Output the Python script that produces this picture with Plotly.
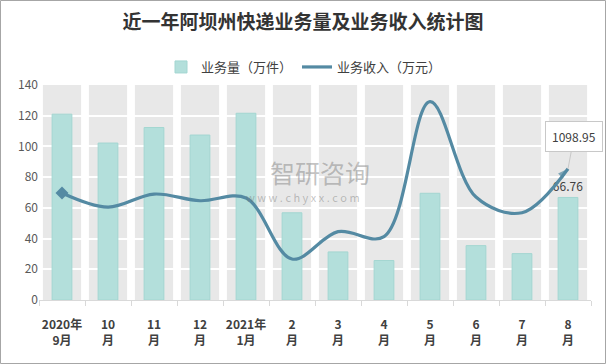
import plotly.graph_objects as go

categories = ["2020年<br>9月", "10<br>月", "11<br>月", "12<br>月", "2021年<br>1月", "2<br>月",
              "3<br>月", "4<br>月", "5<br>月", "6<br>月", "7<br>月", "8<br>月"]
volume = [121.0, 102.2, 112.3, 107.4, 121.6, 56.8, 31.3, 25.7, 69.5, 35.4, 30.2, 66.76]
revenue = [896, 778, 887, 831, 854, 343, 572, 530, 1660, 862, 731, 1098.95]
y_ticks = [0, 20, 40, 60, 80, 100, 120, 140]

FONT = "Noto Sans CJK SC"
L, R, T, B = 39, 15, 85, 64
W, H = 606, 364
pw, ph = W - L - R, H - T - B

def px_x(p):
    return (p - L) / pw

def px_y(p):
    return (H - B - p) / ph

LINE_COLOR = "#548aa3"

fig = go.Figure()

fig.add_trace(go.Bar(
    x=categories, y=volume, name="业务量（万件）", width=0.43,
    marker=dict(color="#b3dfdb", line=dict(color="#a3d6d1", width=1)),
    text=[""] * (len(volume) - 1) + [f"{volume[-1]:.2f}"],
    textposition="outside", cliponaxis=False, constraintext="none",
    textfont=dict(size=12, color="#404040", family=FONT),
))

n = len(revenue)
fig.add_trace(go.Scatter(
    x=categories, y=revenue, name="业务收入（万元）", yaxis="y2",
    mode="lines+markers",
    line=dict(color=LINE_COLOR, width=3.2, shape="spline", smoothing=1.0),
    marker=dict(symbol=["circle"] * (n - 1) + ["arrow"],
                size=[0] * (n - 1) + [11],
                angleref="previous", color=LINE_COLOR, line=dict(width=0)),
))
# start-of-line diamond marker
fig.add_trace(go.Scatter(
    x=categories[:1], y=revenue[:1], yaxis="y2", mode="markers", showlegend=False,
    marker=dict(symbol="diamond", size=10, color=LINE_COLOR, line=dict(width=0)),
    hoverinfo="skip",
))

shapes = []
for i in range(len(categories)):
    shapes.append(dict(type="rect", xref="x", yref="y", x0=i - 0.415, x1=i + 0.415,
                       y0=0, y1=y_ticks[-1], fillcolor="#e8e8e8", line=dict(width=0),
                       layer="below"))
shapes.append(dict(type="rect", xref="paper", yref="paper",
                   x0=px_x(0.5), x1=px_x(W - 0.5), y0=px_y(H - 0.5), y1=px_y(0.5),
                   line=dict(color="#a6a6a6", width=1), fillcolor="rgba(0,0,0,0)",
                   layer="above"))

annotations = [
    dict(xref="x", yref="y2", x=categories[-1], y=revenue[-1], text=f"{revenue[-1]:.2f}",
         showarrow=True, arrowhead=0, arrowwidth=1, arrowcolor="#c8c8c8", ax=6, ay=-32,
         bgcolor="white", bordercolor="#c8c8c8", borderwidth=1, borderpad=6,
         font=dict(size=12, color="#404040", family=FONT)),
    dict(xref="paper", yref="paper", x=px_x(320), y=px_y(172), text="智研咨询",
         showarrow=False, font=dict(size=25, color="rgba(120,120,120,0.45)", family=FONT)),
    dict(xref="paper", yref="paper", x=px_x(303), y=px_y(197),
         text="w w w . c h y x x . c o m", showarrow=False,
         font=dict(size=11, color="rgba(120,120,120,0.45)", family=FONT)),
]

fig.update_layout(
    width=W, height=H,
    margin=dict(l=L, r=R, t=T, b=B, autoexpand=False),
    paper_bgcolor="white", plot_bgcolor="white",
    title=dict(text="<b>近一年阿坝州快递业务量及业务收入统计图</b>", x=0.5, xanchor="center",
               y=1 - 22 / H, yanchor="middle",
               font=dict(size=19, color="#333333", family=FONT)),
    legend=dict(orientation="h", x=px_x(304), xanchor="center", y=px_y(67), yanchor="middle",
                font=dict(size=13, color="#404040", family=FONT), itemwidth=30,
                bgcolor="rgba(0,0,0,0)"),
    barmode="overlay",
    showlegend=True,
    shapes=shapes,
    annotations=annotations,
    xaxis=dict(type="category", range=[-0.5, len(categories) - 0.5],
               showline=True, linecolor="#d9d9d9", linewidth=1,
               ticks="outside", tickson="boundaries", ticklen=5, tickcolor="#d9d9d9",
               tickangle=0, automargin=False,
               tickfont=dict(size=12, color="#404040", family=FONT), showgrid=False,
               tickprefix="<b>", ticksuffix="</b>", ticklabelstandoff=14),
    yaxis=dict(range=[0, y_ticks[-1]], tickvals=y_ticks, showgrid=True, gridcolor="white",
               gridwidth=1.5, zeroline=False, showline=False, automargin=False,
               tickfont=dict(size=12, color="#595959", family=FONT)),
    yaxis2=dict(range=[0, 1800], overlaying="y", side="right", visible=False,
                showgrid=False, zeroline=False),
)

fig.write_html("out.html", config={"displayModeBar": False},
               post_script="document.body.style.margin='0';")
